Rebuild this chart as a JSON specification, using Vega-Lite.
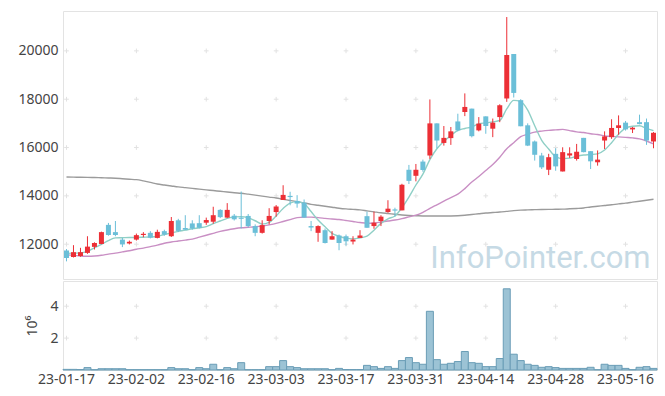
{
  "$schema": "https://vega.github.io/schema/vega-lite/v6.json",
  "padding": {"left": 17, "top": 10, "right": 9, "bottom": 5},
  "background": "white",
  "config": {
    "view": {"stroke": "#e3e3e3"},
    "axis": {"grid": false, "ticks": false, "domain": false, "labelFont": "Noto Sans", "labelFontSize": 14, "labelColor": "#444", "titleFont": "Noto Sans"}
  },
  "spacing": 0,
  "data": {"values": [
    {"d":"23-01-17","o":11740,"h":11800,"l":11290,"c":11430,"v":0.04,"m5":11620,"m20":11560,"m120":14780},
    {"d":"23-01-18","o":11470,"h":11960,"l":11450,"c":11670,"v":0.04,"m5":11630,"m20":11540,"m120":14775},
    {"d":"23-01-19","o":11510,"h":11850,"l":11480,"c":11670,"v":0.03,"m5":11640,"m20":11510,"m120":14770},
    {"d":"23-01-20","o":11640,"h":12330,"l":11600,"c":11900,"v":0.15,"m5":11700,"m20":11500,"m120":14765},
    {"d":"23-01-25","o":11890,"h":12080,"l":11780,"c":12050,"v":0.02,"m5":11850,"m20":11510,"m120":14760},
    {"d":"23-01-26","o":12010,"h":12520,"l":12000,"c":12500,"v":0.08,"m5":11990,"m20":11540,"m120":14750},
    {"d":"23-01-27","o":12800,"h":12880,"l":12350,"c":12380,"v":0.08,"m5":12150,"m20":11590,"m120":14740},
    {"d":"23-01-30","o":12500,"h":12960,"l":12330,"c":12380,"v":0.08,"m5":12260,"m20":11630,"m120":14730},
    {"d":"23-01-31","o":12190,"h":12260,"l":11880,"c":11990,"v":0.08,"m5":12270,"m20":11680,"m120":14710},
    {"d":"23-02-01","o":12030,"h":12150,"l":11990,"c":12100,"v":0.02,"m5":12280,"m20":11730,"m120":14690},
    {"d":"23-02-02","o":12190,"h":12440,"l":12150,"c":12375,"v":0.02,"m5":12280,"m20":11790,"m120":14670},
    {"d":"23-02-03","o":12380,"h":12500,"l":12290,"c":12430,"v":0.02,"m5":12290,"m20":11840,"m120":14620},
    {"d":"23-02-06","o":12470,"h":12540,"l":12240,"c":12270,"v":0.02,"m5":12300,"m20":11900,"m120":14560},
    {"d":"23-02-07","o":12260,"h":12600,"l":12240,"c":12510,"v":0.02,"m5":12330,"m20":11960,"m120":14490},
    {"d":"23-02-08","o":12540,"h":12600,"l":12350,"c":12400,"v":0.02,"m5":12400,"m20":12040,"m120":14450},
    {"d":"23-02-09","o":12330,"h":13125,"l":12300,"c":12960,"v":0.15,"m5":12470,"m20":12090,"m120":14410},
    {"d":"23-02-10","o":12990,"h":13050,"l":12500,"c":12550,"v":0.08,"m5":12530,"m20":12130,"m120":14370},
    {"d":"23-02-13","o":12670,"h":13200,"l":12580,"c":12600,"v":0.08,"m5":12580,"m20":12170,"m120":14340},
    {"d":"23-02-14","o":12860,"h":12990,"l":12600,"c":12650,"v":0.02,"m5":12640,"m20":12210,"m120":14310},
    {"d":"23-02-15","o":12870,"h":13200,"l":12650,"c":12680,"v":0.15,"m5":12680,"m20":12290,"m120":14280},
    {"d":"23-02-16","o":12890,"h":13100,"l":12800,"c":13000,"v":0.08,"m5":12730,"m20":12370,"m120":14250},
    {"d":"23-02-17","o":12930,"h":13550,"l":12850,"c":13200,"v":0.36,"m5":12850,"m20":12450,"m120":14220},
    {"d":"23-02-20","o":13420,"h":13450,"l":13080,"c":13120,"v":0.02,"m5":12960,"m20":12530,"m120":14190},
    {"d":"23-02-21","o":13100,"h":13700,"l":13080,"c":13420,"v":0.15,"m5":13070,"m20":12590,"m120":14160},
    {"d":"23-02-22","o":13180,"h":13250,"l":12980,"c":13030,"v":0.08,"m5":13130,"m20":12640,"m120":14130},
    {"d":"23-02-23","o":13100,"h":14180,"l":12650,"c":13050,"v":0.46,"m5":13140,"m20":12680,"m120":14110},
    {"d":"23-02-24","o":13170,"h":13250,"l":12700,"c":12750,"v":0.02,"m5":13090,"m20":12700,"m120":14070},
    {"d":"23-02-27","o":12750,"h":12820,"l":12330,"c":12470,"v":0.02,"m5":12970,"m20":12720,"m120":14030},
    {"d":"23-02-28","o":12470,"h":12990,"l":12440,"c":12790,"v":0.02,"m5":12830,"m20":12750,"m120":13990},
    {"d":"23-03-02","o":12960,"h":13490,"l":12820,"c":13170,"v":0.21,"m5":12900,"m20":12800,"m120":13950},
    {"d":"23-03-03","o":13330,"h":13620,"l":13140,"c":13560,"v":0.21,"m5":13170,"m20":12860,"m120":13910},
    {"d":"23-03-06","o":13830,"h":14440,"l":13830,"c":14040,"v":0.59,"m5":13480,"m20":12940,"m120":13860},
    {"d":"23-03-07","o":14000,"h":14170,"l":13610,"c":13950,"v":0.21,"m5":13700,"m20":13020,"m120":13810},
    {"d":"23-03-08","o":13790,"h":14030,"l":13510,"c":13680,"v":0.15,"m5":13760,"m20":13100,"m120":13760},
    {"d":"23-03-09","o":13720,"h":13850,"l":13100,"c":13100,"v":0.08,"m5":13680,"m20":13120,"m120":13710},
    {"d":"23-03-10","o":12750,"h":12960,"l":12540,"c":12690,"v":0.08,"m5":13350,"m20":13120,"m120":13650},
    {"d":"23-03-13","o":12470,"h":12780,"l":12100,"c":12750,"v":0.08,"m5":13000,"m20":13100,"m120":13610},
    {"d":"23-03-14","o":12580,"h":12650,"l":12030,"c":12050,"v":0.08,"m5":12720,"m20":13070,"m120":13570},
    {"d":"23-03-15","o":12190,"h":12540,"l":12190,"c":12330,"v":0.02,"m5":12450,"m20":13040,"m120":13530},
    {"d":"23-03-16","o":12360,"h":12400,"l":11750,"c":12050,"v":0.1,"m5":12330,"m20":13020,"m120":13490},
    {"d":"23-03-17","o":12330,"h":12400,"l":11940,"c":12120,"v":0.03,"m5":12250,"m20":12980,"m120":13460},
    {"d":"23-03-20","o":12110,"h":12330,"l":11990,"c":12190,"v":0.03,"m5":12220,"m20":12940,"m120":13440},
    {"d":"23-03-21","o":12260,"h":12580,"l":12260,"c":12360,"v":0.03,"m5":12260,"m20":12900,"m120":13420},
    {"d":"23-03-22","o":13160,"h":13350,"l":12680,"c":12680,"v":0.29,"m5":12330,"m20":12870,"m120":13380},
    {"d":"23-03-23","o":12750,"h":13350,"l":12640,"c":12890,"v":0.21,"m5":12580,"m20":12880,"m120":13340},
    {"d":"23-03-24","o":12960,"h":13200,"l":12750,"c":13140,"v":0.1,"m5":12860,"m20":12920,"m120":13300},
    {"d":"23-03-27","o":13330,"h":13820,"l":13300,"c":13470,"v":0.21,"m5":13050,"m20":12960,"m120":13270},
    {"d":"23-03-28","o":13440,"h":13510,"l":13140,"c":13390,"v":0.1,"m5":13170,"m20":13000,"m120":13240},
    {"d":"23-03-29","o":13400,"h":14500,"l":13400,"c":14460,"v":0.59,"m5":13510,"m20":13060,"m120":13210},
    {"d":"23-03-30","o":15080,"h":15280,"l":14490,"c":14620,"v":0.78,"m5":13950,"m20":13130,"m120":13190},
    {"d":"23-03-31","o":14830,"h":15320,"l":14600,"c":15080,"v":0.46,"m5":14450,"m20":13200,"m120":13180},
    {"d":"23-04-03","o":15420,"h":15500,"l":15000,"c":15070,"v":0.36,"m5":14900,"m20":13320,"m120":13170},
    {"d":"23-04-04","o":15670,"h":17990,"l":15530,"c":17000,"v":3.68,"m5":15500,"m20":13480,"m120":13170},
    {"d":"23-04-05","o":17000,"h":17000,"l":15970,"c":16290,"v":0.65,"m5":15950,"m20":13630,"m120":13165},
    {"d":"23-04-06","o":16190,"h":16890,"l":16080,"c":16400,"v":0.36,"m5":16250,"m20":13780,"m120":13165},
    {"d":"23-04-07","o":16390,"h":16850,"l":16110,"c":16670,"v":0.42,"m5":16500,"m20":13930,"m120":13170},
    {"d":"23-04-10","o":17080,"h":17400,"l":16670,"c":16710,"v":0.53,"m5":16710,"m20":14070,"m120":13180},
    {"d":"23-04-11","o":17470,"h":18240,"l":17300,"c":17680,"v":1.16,"m5":16790,"m20":14300,"m120":13200},
    {"d":"23-04-12","o":17610,"h":17610,"l":16420,"c":16470,"v":0.46,"m5":16850,"m20":14570,"m120":13230},
    {"d":"23-04-13","o":16710,"h":17260,"l":16670,"c":16990,"v":0.42,"m5":16980,"m20":14800,"m120":13260},
    {"d":"23-04-14","o":17290,"h":17290,"l":16570,"c":16890,"v":0.21,"m5":17020,"m20":15050,"m120":13290},
    {"d":"23-04-17","o":16780,"h":17200,"l":16430,"c":17030,"v":0.21,"m5":17060,"m20":15300,"m120":13310},
    {"d":"23-04-18","o":17260,"h":17790,"l":17050,"c":17750,"v":0.72,"m5":17120,"m20":15600,"m120":13330},
    {"d":"23-04-19","o":18030,"h":21400,"l":17890,"c":19830,"v":5.09,"m5":17600,"m20":15950,"m120":13360},
    {"d":"23-04-20","o":19870,"h":19870,"l":18070,"c":18260,"v":0.99,"m5":17950,"m20":16200,"m120":13390},
    {"d":"23-04-21","o":17960,"h":18000,"l":16880,"c":16880,"v":0.59,"m5":17900,"m20":16450,"m120":13410},
    {"d":"23-04-24","o":16920,"h":17000,"l":16060,"c":16080,"v":0.36,"m5":17550,"m20":16550,"m120":13420},
    {"d":"23-04-25","o":16250,"h":16290,"l":15460,"c":15700,"v":0.29,"m5":16900,"m20":16640,"m120":13430},
    {"d":"23-04-26","o":15670,"h":15780,"l":15110,"c":15180,"v":0.17,"m5":16300,"m20":16680,"m120":13435},
    {"d":"23-04-27","o":15080,"h":15740,"l":14860,"c":15600,"v":0.21,"m5":15940,"m20":16710,"m120":13440},
    {"d":"23-04-28","o":15740,"h":15970,"l":15040,"c":15220,"v":0.15,"m5":15620,"m20":16730,"m120":13445},
    {"d":"23-05-02","o":15010,"h":16010,"l":15010,"c":15810,"v":0.1,"m5":15540,"m20":16750,"m120":13450},
    {"d":"23-05-03","o":15670,"h":16010,"l":15570,"c":15760,"v":0.1,"m5":15560,"m20":16700,"m120":13465},
    {"d":"23-05-04","o":15530,"h":16150,"l":15460,"c":15830,"v":0.1,"m5":15640,"m20":16650,"m120":13480},
    {"d":"23-05-08","o":16400,"h":16400,"l":15800,"c":15810,"v":0.1,"m5":15690,"m20":16620,"m120":13500},
    {"d":"23-05-09","o":15850,"h":15850,"l":15110,"c":15430,"v":0.17,"m5":15710,"m20":16570,"m120":13540},
    {"d":"23-05-10","o":15390,"h":15880,"l":15250,"c":15500,"v":0.02,"m5":15740,"m20":16540,"m120":13570},
    {"d":"23-05-11","o":16290,"h":16670,"l":15940,"c":16460,"v":0.36,"m5":15900,"m20":16480,"m120":13600},
    {"d":"23-05-12","o":16430,"h":17170,"l":16360,"c":16810,"v":0.29,"m5":16200,"m20":16460,"m120":13630},
    {"d":"23-05-15","o":16810,"h":17330,"l":16530,"c":16920,"v":0.29,"m5":16550,"m20":16440,"m120":13670},
    {"d":"23-05-16","o":17030,"h":17100,"l":16700,"c":16750,"v":0.1,"m5":16800,"m20":16420,"m120":13700},
    {"d":"23-05-17","o":16750,"h":16850,"l":16600,"c":16820,"v":0.02,"m5":16880,"m20":16400,"m120":13740},
    {"d":"23-05-18","o":17050,"h":17360,"l":16960,"c":16970,"v":0.17,"m5":16900,"m20":16360,"m120":13780},
    {"d":"23-05-19","o":17050,"h":17200,"l":16110,"c":16290,"v":0.21,"m5":16790,"m20":16270,"m120":13820},
    {"d":"23-05-22","o":16250,"h":16640,"l":15970,"c":16610,"v":0.1,"m5":16700,"m20":16150,"m120":13860}
  ]},
  "vconcat": [
    {
      "width": 594,
      "height": 268,
      "encoding": {
        "x": {"field": "d", "type": "ordinal", "sort": "ascending", "scale": {"type": "band", "paddingInner": 0, "paddingOuter": 0}, "axis": null}
      },
      "layer": [
        {
          "data": {"values": [
            {"d":"23-01-17","p":12000},{"d":"23-01-17","p":14000},{"d":"23-01-17","p":16000},{"d":"23-01-17","p":18000},{"d":"23-01-17","p":20000},
            {"d":"23-02-02","p":12000},{"d":"23-02-02","p":14000},{"d":"23-02-02","p":16000},{"d":"23-02-02","p":18000},{"d":"23-02-02","p":20000},
            {"d":"23-02-16","p":12000},{"d":"23-02-16","p":14000},{"d":"23-02-16","p":16000},{"d":"23-02-16","p":18000},{"d":"23-02-16","p":20000},
            {"d":"23-03-03","p":12000},{"d":"23-03-03","p":14000},{"d":"23-03-03","p":16000},{"d":"23-03-03","p":18000},{"d":"23-03-03","p":20000},
            {"d":"23-03-17","p":12000},{"d":"23-03-17","p":14000},{"d":"23-03-17","p":16000},{"d":"23-03-17","p":18000},{"d":"23-03-17","p":20000},
            {"d":"23-03-31","p":12000},{"d":"23-03-31","p":14000},{"d":"23-03-31","p":16000},{"d":"23-03-31","p":18000},{"d":"23-03-31","p":20000},
            {"d":"23-04-14","p":12000},{"d":"23-04-14","p":14000},{"d":"23-04-14","p":16000},{"d":"23-04-14","p":18000},{"d":"23-04-14","p":20000},
            {"d":"23-04-28","p":12000},{"d":"23-04-28","p":14000},{"d":"23-04-28","p":16000},{"d":"23-04-28","p":18000},{"d":"23-04-28","p":20000},
            {"d":"23-05-16","p":12000},{"d":"23-05-16","p":14000},{"d":"23-05-16","p":16000},{"d":"23-05-16","p":18000},{"d":"23-05-16","p":20000}
          ]},
          "mark": {"type": "point", "shape": "M-1,0H1M0,-1V1", "filled": false, "stroke": "#e2e2e2", "strokeWidth": 1, "size": 22, "opacity": 1},
          "encoding": {
            "y": {"field": "p", "type": "quantitative"}
          }
        },
        {
          "data": {"values": [{}]},
          "mark": {"type": "text", "align": "right", "baseline": "alphabetic", "font": "Roboto", "fontSize": 31, "color": "#c6dae5", "dx": -3},
          "encoding": {
            "x": {"datum": "23-05-22"},
            "y": {"datum": 11020, "type": "quantitative"},
            "text": {"value": "InfoPointer.com"}
          }
        },
        {
          "mark": {"type": "line", "color": "#9b9b9b", "strokeWidth": 1.4, "interpolate": "monotone"},
          "encoding": {"y": {"field": "m120", "type": "quantitative"}}
        },
        {
          "mark": {"type": "line", "color": "#c98fc4", "strokeWidth": 1.4, "interpolate": "monotone"},
          "encoding": {"y": {"field": "m20", "type": "quantitative"}}
        },
        {
          "mark": {"type": "line", "color": "#8fcfc6", "strokeWidth": 1.4, "interpolate": "monotone"},
          "encoding": {"y": {"field": "m5", "type": "quantitative"}}
        },
        {
          "mark": {"type": "rule", "strokeWidth": 1},
          "encoding": {
            "y": {"field": "l", "type": "quantitative"},
            "y2": {"field": "h"},
            "color": {"condition": {"test": "datum.c >= datum.o", "value": "#ec2f36"}, "value": "#6bbfd8"}
          }
        },
        {
          "mark": {"type": "bar", "size": 5},
          "encoding": {
            "y": {"field": "o", "type": "quantitative", "scale": {"domain": [10560, 21650], "nice": false, "zero": false},
                  "axis": {"values": [12000, 14000, 16000, 18000, 20000], "format": "d", "title": null, "labelPadding": 5}},
            "y2": {"field": "c"},
            "color": {"condition": {"test": "datum.c >= datum.o", "value": "#ec2f36"}, "value": "#6bbfd8"}
          }
        }
      ]
    },
    {
      "width": 594,
      "height": 89,
      "encoding": {
        "x": {"field": "d", "type": "ordinal", "sort": "ascending", "scale": {"type": "band", "paddingInner": 0, "paddingOuter": 0},
              "axis": {"values": ["23-01-17","23-02-02","23-02-16","23-03-03","23-03-17","23-03-31","23-04-14","23-04-28","23-05-16"], "labelAngle": 0, "title": null, "labelPadding": 2}}
      },
      "layer": [
        {
          "data": {"values": [
            {"d":"23-01-17","q":2},{"d":"23-01-17","q":4},{"d":"23-02-02","q":2},{"d":"23-02-02","q":4},
            {"d":"23-02-16","q":2},{"d":"23-02-16","q":4},{"d":"23-03-03","q":2},{"d":"23-03-03","q":4},
            {"d":"23-03-17","q":2},{"d":"23-03-17","q":4},{"d":"23-03-31","q":2},{"d":"23-03-31","q":4},
            {"d":"23-04-14","q":2},{"d":"23-04-14","q":4},{"d":"23-04-28","q":2},{"d":"23-04-28","q":4},
            {"d":"23-05-16","q":2},{"d":"23-05-16","q":4}
          ]},
          "mark": {"type": "point", "shape": "M-1,0H1M0,-1V1", "filled": false, "stroke": "#e2e2e2", "strokeWidth": 1, "size": 22, "opacity": 1},
          "encoding": {"y": {"field": "q", "type": "quantitative"}}
        },
        {
          "mark": {"type": "bar", "color": "#9cc3d5", "stroke": "#6a9db6", "strokeWidth": 1},
          "encoding": {
            "y": {"field": "v", "type": "quantitative", "scale": {"domain": [0, 5.58], "nice": false},
                  "axis": {"values": [2, 4], "title": "10⁶", "titleFontSize": 14, "titleFontWeight": "normal", "titleColor": "#444", "titlePadding": 10, "labelPadding": 5}}
          }
        }
      ]
    }
  ]
}
